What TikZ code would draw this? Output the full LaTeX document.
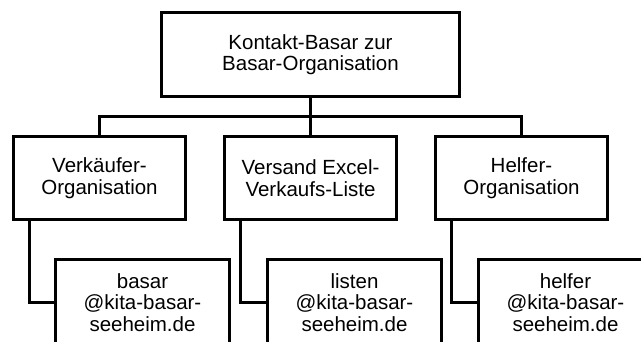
\documentclass[tikz,border=0pt]{standalone}
\usepackage{fontspec}
\setmainfont{Liberation Sans}
\usetikzlibrary{positioning,calc}
\begin{document}
\begin{tikzpicture}[x=1pt,y=1pt,line width=3pt,
		font=\fontsize{20.5}{21.5}\selectfont,
		orgbox/.style={draw,align=center,minimum width=172pt,minimum height=83pt,inner sep=2pt},
		mailbox/.style={orgbox,minimum width=174pt,minimum height=86pt}]
	\clip (0,0) rectangle (641,342);
	\node[orgbox,minimum width=298pt,minimum height=84pt] (kontakt) at (310.5,287.5) {Kontakt-Basar zur\\Basar-Organisation};
	\node[orgbox,below=37pt of kontakt] (versand) {Versand Excel-\\Verkaufs-Liste};
	\node[orgbox,left=36pt of versand] (verkaeufer) {Verkäufer-\\Organisation};
	\node[orgbox,right=36pt of versand] (helfer) {Helfer-\\Organisation};
	\node[mailbox,below=37pt of verkaeufer,xshift=43pt] (mailbasar) {basar\\@kita-basar-\\seeheim.de};
	\node[mailbox,below=37pt of versand,xshift=44pt] (maillisten) {listen\\@kita-basar-\\seeheim.de};
	\node[mailbox,below=37pt of helfer,xshift=44pt] (mailhelfer) {helfer\\@kita-basar-\\seeheim.de};
	\coordinate (bar) at ($(kontakt.south)!0.5!(versand.north)$);
	\draw (kontakt.south) -- (versand.north);
	\draw (verkaeufer.north) |- (bar) -| (helfer.north);
	\draw ([xshift=17pt]verkaeufer.south west) |- (mailbasar.west);
	\draw ([xshift=17pt]versand.south west) |- (maillisten.west);
	\draw ([xshift=17pt]helfer.south west) |- (mailhelfer.west);
\end{tikzpicture}
\end{document}
